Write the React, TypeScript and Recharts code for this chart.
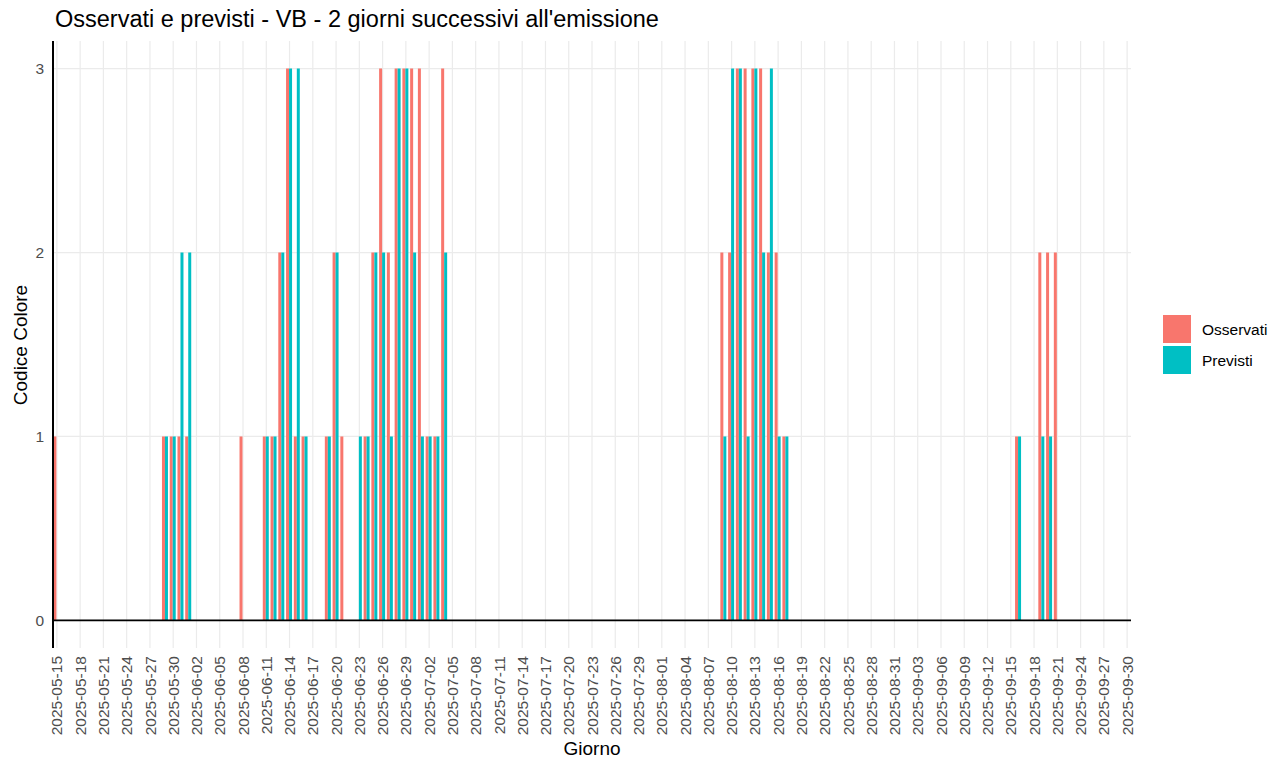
import React from 'react';
import { BarChart, Bar, XAxis, YAxis, CartesianGrid, ReferenceLine } from 'recharts';

// first day shown and number of days on the axis
const primoGiorno = '2025-05-15';
const numeroGiorni = 139;

// observed colour code, one value per day, split by month
const osservatiMaggio = [1, 0, 0, 0, 0, 0, 0, 0, 0, 0, 0, 0, 0, 0, 1, 1, 1];
const osservatiGiugno = [1, 0, 0, 0, 0, 0, 0, 1, 0, 0, 1, 1, 2, 3, 1, 1, 0, 0, 1, 2, 1, 0, 0, 1, 2, 3, 2, 3, 3, 3];
const osservatiLuglio = [3, 1, 1, 3, 0, 0, 0, 0, 0, 0, 0, 0, 0, 0, 0, 0, 0, 0, 0, 0, 0, 0, 0, 0, 0, 0, 0, 0, 0, 0, 0];
const osservatiAgosto = [0, 0, 0, 0, 0, 0, 0, 0, 2, 2, 3, 3, 3, 3, 2, 2, 1, 0, 0, 0, 0, 0, 0, 0, 0, 0, 0, 0, 0, 0, 0];
const osservatiSettembre = [0, 0, 0, 0, 0, 0, 0, 0, 0, 0, 0, 0, 0, 0, 0, 1, 0, 0, 2, 2, 2, 0, 0, 0, 0, 0, 0, 0, 0, 0];

// forecast colour code (2 days after issue)
const previstiMaggio = [0, 0, 0, 0, 0, 0, 0, 0, 0, 0, 0, 0, 0, 0, 1, 1, 2];
const previstiGiugno = [2, 0, 0, 0, 0, 0, 0, 0, 0, 0, 1, 1, 2, 3, 3, 1, 0, 0, 1, 2, 0, 0, 1, 1, 2, 2, 1, 3, 3, 2];
const previstiLuglio = [1, 1, 1, 2, 0, 0, 0, 0, 0, 0, 0, 0, 0, 0, 0, 0, 0, 0, 0, 0, 0, 0, 0, 0, 0, 0, 0, 0, 0, 0, 0];
const previstiAgosto = [0, 0, 0, 0, 0, 0, 0, 0, 1, 3, 3, 1, 3, 2, 3, 1, 1, 0, 0, 0, 0, 0, 0, 0, 0, 0, 0, 0, 0, 0, 0];
const previstiSettembre = [0, 0, 0, 0, 0, 0, 0, 0, 0, 0, 0, 0, 0, 0, 0, 1, 0, 0, 1, 1, 0, 0, 0, 0, 0, 0, 0, 0, 0, 0];

const yTicks = [0, 1, 2, 3];
const yDomain = [-0.15, 3.15];

const osservati = [...osservatiMaggio, ...osservatiGiugno, ...osservatiLuglio, ...osservatiAgosto, ...osservatiSettembre];
const previsti = [...previstiMaggio, ...previstiGiugno, ...previstiLuglio, ...previstiAgosto, ...previstiSettembre];

const giorni: string[] = [];
for (let i = 0; i < numeroGiorni; i++) {
  const d = new Date(primoGiorno + 'T00:00:00Z');
  d.setUTCDate(d.getUTCDate() + i);
  giorni.push(d.toISOString().slice(0, 10));
}
// a label every third day
const xTicks = giorni.filter((_, i) => i % 3 === 0);

const data = giorni.map((g, i) => ({ giorno: g, osservati: osservati[i], previsti: previsti[i] }));

const FONT = '"Liberation Sans", Arial, Helvetica, sans-serif';
const ROSSO = '#F8766D';
const CIANO = '#00BFC4';
const GRIGLIA = '#ebebeb';

// grid only at the labelled days / integer codes, no border lines
const gridX = ({ offset }: any) => {
  if (!offset) return [];
  const band = offset.width / giorni.length;
  return xTicks.map((t) => offset.left + band * (giorni.indexOf(t) + 0.5));
};
const gridY = ({ offset }: any) => {
  if (!offset) return [];
  const span = yDomain[1] - yDomain[0];
  return yTicks.map((v) => offset.top + (offset.height * (yDomain[1] - v)) / span);
};

const DateTick = ({ x, y, payload }: any) => (
  <text
    x={x}
    y={y}
    transform={`rotate(-90 ${x} ${y})`}
    textAnchor="end"
    dy="0.36em"
    fill="#4d4d4d"
    fontSize={15.5}
    fontFamily={FONT}
  >
    {payload.value}
  </text>
);

const App: React.FC = () => {
  return (
    <div style={{ position: 'absolute', left: 0, top: 0, width: 1285, height: 762, background: '#fff', fontFamily: FONT }}>
      <BarChart
        width={1285}
        height={762}
        data={data}
        margin={{ top: 41, right: 154, bottom: 0, left: 0 }}
        barCategoryGap="5%"
        barGap={0}
      >
        <CartesianGrid
          stroke={GRIGLIA}
          strokeWidth={1.2}
          verticalCoordinatesGenerator={gridX}
          horizontalCoordinatesGenerator={gridY}
        />
        <XAxis
          dataKey="giorno"
          type="category"
          ticks={xTicks}
          interval={0}
          height={114}
          axisLine={false}
          tickLine={false}
          tickSize={0}
          tickMargin={8}
          tick={<DateTick />}
        />
        <YAxis
          type="number"
          domain={yDomain}
          ticks={yTicks}
          allowDataOverflow
          width={53}
          axisLine={{ stroke: '#000', strokeWidth: 2 }}
          tickLine={false}
          tickSize={0}
          tickMargin={9}
          tick={{ fill: '#4d4d4d', fontSize: 15.5, fontFamily: FONT }}
        />
        <Bar dataKey="osservati" fill={ROSSO} isAnimationActive={false} />
        <Bar dataKey="previsti" fill={CIANO} isAnimationActive={false} />
        <ReferenceLine y={0} stroke="#000" strokeWidth={1.6} />
      </BarChart>
      <svg
        width={1285}
        height={762}
        style={{ position: 'absolute', left: 0, top: 0, pointerEvents: 'none' }}
        fontFamily={FONT}
      >
        <text x={55} y={27} fontSize={23.5} fill="#000">
          Osservati e previsti - VB - 2 giorni successivi all'emissione
        </text>
        <text x={592} y={755} fontSize={19} fill="#000" textAnchor="middle">
          Giorno
        </text>
        <text x={27} y={345} fontSize={19} fill="#000" textAnchor="middle" transform="rotate(-90 27 345)">
          Codice Colore
        </text>
        <rect x={1163} y={315} width={28} height={28} fill={ROSSO} />
        <rect x={1163} y={346} width={28} height={28} fill={CIANO} />
        <text x={1202} y={335} fontSize={15.5} fill="#000">
          Osservati
        </text>
        <text x={1202} y={366} fontSize={15.5} fill="#000">
          Previsti
        </text>
      </svg>
    </div>
  );
};

export default App;
